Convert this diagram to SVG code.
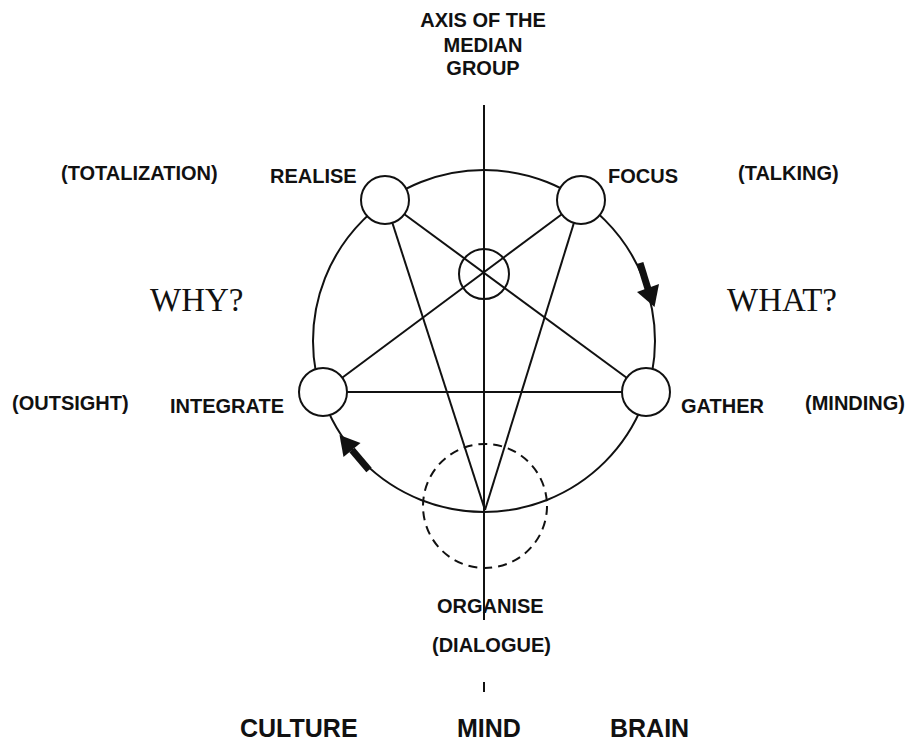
<svg xmlns="http://www.w3.org/2000/svg" width="915" height="744" viewBox="0 0 915 744">
<style>
.t{font-family:"Liberation Sans",Arial,sans-serif;font-weight:bold;font-size:20px;fill:#111}
.b{font-family:"Liberation Sans",Arial,sans-serif;font-weight:bold;font-size:25px;fill:#111}
.q{font-family:"Liberation Serif","Times New Roman",serif;font-size:33px;fill:#111}
.ln{stroke:#111;stroke-width:2;fill:none}
.nd{stroke:#111;stroke-width:2;fill:#fff}
</style>
<rect width="915" height="744" fill="#fff"/>
<g id="axis">
<line class="ln" x1="484" y1="105" x2="484" y2="620"/>
<line class="ln" x1="484" y1="682" x2="484" y2="692"/>
</g>
<g id="big-circle"><circle class="ln" cx="484" cy="341" r="171"/></g>
<g id="dashed-circle"><circle class="ln" cx="485" cy="506" r="62" stroke-dasharray="9,6"/></g>
<g id="connectors">
<line class="ln" x1="385" y1="200" x2="485" y2="510"/>
<line class="ln" x1="581" y1="200" x2="485" y2="510"/>
<line class="ln" x1="385" y1="200" x2="646" y2="392"/>
<line class="ln" x1="581" y1="200" x2="323" y2="392"/>
<line class="ln" x1="323" y1="392" x2="646" y2="392"/>
<line stroke="#111" stroke-width="7" x1="640" y1="263" x2="648" y2="289"/>
<polygon fill="#111" points="659,284 637,292 654.5,307"/>
<line stroke="#111" stroke-width="7" x1="369" y1="470" x2="352" y2="450"/>
<polygon fill="#111" points="360.5,443 343.5,457 339.5,435"/>
</g>
<g id="center"><circle class="ln" cx="484" cy="274" r="25"/></g>
<g id="realise"><circle class="nd" cx="385" cy="200" r="24"/><text class="t" x="270" y="183">REALISE</text></g>
<g id="focus"><circle class="nd" cx="581" cy="200" r="24"/><text class="t" x="608" y="183">FOCUS</text></g>
<g id="integrate"><circle class="nd" cx="323" cy="392" r="24"/><text class="t" x="170" y="413">INTEGRATE</text></g>
<g id="gather"><circle class="nd" cx="646" cy="392" r="24"/><text class="t" x="681" y="413">GATHER</text></g>
<g id="organise"><text class="t" x="437" y="613">ORGANISE</text></g>
<g id="labels">
<text class="t" text-anchor="middle" x="483" y="27">AXIS OF THE</text>
<text class="t" text-anchor="middle" x="483" y="52">MEDIAN</text>
<text class="t" text-anchor="middle" x="483" y="75">GROUP</text>
<text class="t" x="61" y="180">(TOTALIZATION)</text>
<text class="t" x="738" y="180">(TALKING)</text>
<text class="q" x="150" y="311">WHY?</text>
<text class="q" x="727" y="311">WHAT?</text>
<text class="t" x="12" y="410">(OUTSIGHT)</text>
<text class="t" x="805" y="410">(MINDING)</text>
<text class="t" x="432" y="652">(DIALOGUE)</text>
<text class="b" x="240" y="737">CULTURE</text>
<text class="b" x="457" y="737">MIND</text>
<text class="b" x="610" y="737">BRAIN</text>
</g>
</svg>
